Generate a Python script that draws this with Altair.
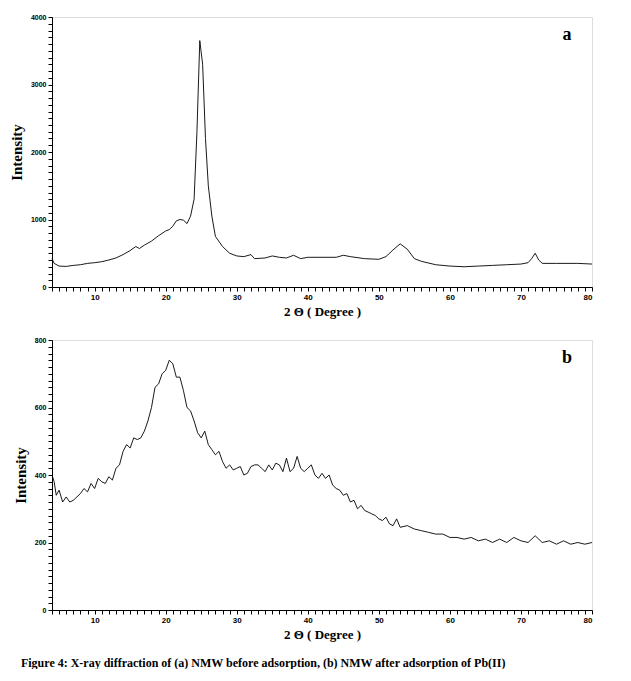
import altair as alt
import pandas as pd

# panel a: NMW before adsorption
theta_a = [4, 4.3, 5, 6, 7, 8, 9, 10, 11, 12, 13, 14, 15, 15.8, 16.3, 17, 18, 19, 20, 20.5,
           21, 21.5, 22, 22.5, 23, 23.5, 24, 24.4, 24.8, 25.2, 25.6, 26, 26.5, 27, 28, 29, 30,
           31, 32, 32.5, 34, 35, 36, 37, 38, 39, 40, 42, 44, 45, 46, 48, 50, 51, 52, 53, 54,
           55, 56, 58, 60, 62, 64, 66, 68, 70, 71, 71.5, 72, 72.5, 73, 75, 78, 80]
int_a = [420, 350, 310, 305, 320, 330, 350, 360, 375, 400, 430, 480, 540, 600, 570, 620, 680,
         760, 830, 850, 900, 980, 1000, 990, 940, 1050, 1300, 2300, 3650, 3300, 2200, 1500,
         1050, 750, 600, 500, 460, 450, 480, 420, 430, 460, 440, 430, 470, 420, 440, 440, 440,
         470, 450, 420, 410, 450, 550, 640, 560, 420, 380, 330, 310, 300, 310, 320, 330, 340,
         360, 420, 500, 400, 350, 350, 350, 340]

# panel b: NMW after adsorption of Pb(II)
theta_b = [4, 4.3, 4.6, 5, 5.5, 6, 6.5, 7, 8, 8.5, 9, 9.5, 10, 10.5, 11, 11.5, 12, 12.5, 13,
           13.5, 14, 14.5, 15, 15.5, 16, 16.5, 17, 17.5, 18, 18.5, 19, 19.5, 20, 20.5, 21,
           21.5, 22, 22.5, 23, 23.5, 24, 24.5, 25, 25.5, 26, 26.5, 27, 27.5, 28, 28.5, 29,
           29.5, 30, 30.5, 31, 31.5, 32, 32.5, 33, 33.5, 34, 34.5, 35, 35.5, 36, 36.5, 37,
           37.5, 38, 38.5, 39, 39.5, 40, 40.5, 41, 41.5, 42, 42.5, 43, 43.5, 44, 44.5, 45,
           45.5, 46, 46.5, 47, 47.5, 48, 48.5, 49, 49.5, 50, 50.5, 51, 51.5, 52, 52.5, 53,
           54, 55, 56, 57, 58, 59, 60, 61, 62, 63, 64, 65, 66, 67, 68, 69, 70, 71, 72, 73,
           74, 75, 76, 77, 78, 79, 80]
int_b = [400, 380, 340, 355, 320, 335, 320, 325, 345, 360, 350, 375, 360, 390, 380, 375, 395,
         385, 420, 430, 470, 490, 480, 510, 505, 510, 530, 560, 600, 660, 670, 700, 710, 740,
         730, 690, 690, 650, 600, 590, 560, 525, 510, 530, 490, 475, 460, 470, 440, 420, 430,
         415, 420, 425, 400, 405, 425, 430, 430, 420, 410, 430, 415, 435, 430, 410, 450, 410,
         420, 455, 420, 410, 420, 430, 400, 390, 405, 390, 400, 370, 360, 355, 340, 345, 320,
         325, 300, 310, 295, 290, 285, 280, 270, 265, 275, 255, 250, 270, 245, 250, 240, 235,
         230, 225, 225, 215, 215, 210, 215, 205, 210, 200, 210, 200, 215, 205, 200, 220, 200,
         205, 195, 205, 195, 200, 195, 200]

SERIF = "Liberation Serif"
W, H = 540, 270


def panel(theta, inten, ymax, ystep, letter):
    df = pd.DataFrame({"theta": theta, "intensity": inten})
    xaxis = alt.Axis(values=list(range(4, 81)), labelExpr="datum.value % 10 == 0 ? datum.value : ''",
                     grid=False, tickSize=4, labelFontSize=8, labelFontWeight="bold",
                     labelFont="Arial", title="2 \u0398 ( Degree )", titleFont=SERIF,
                     titleFontSize=13, titleFontWeight="bold", titlePadding=4,
                     domainColor="black", tickColor="black", labelColor="black")
    yaxis = alt.Axis(values=list(range(0, ymax + 1, ystep // 10)),
                     labelExpr=f"datum.value % {ystep} == 0 ? datum.value : ''",
                     grid=False, tickSize=4, labelFontSize=7, labelFontWeight="bold",
                     labelFont="Arial", title="Intensity", titleFont=SERIF, titleFontSize=15,
                     titleFontWeight="bold", titlePadding=6,
                     domainColor="black", tickColor="black", labelColor="black")
    line = alt.Chart(df).mark_line(color="black", strokeWidth=0.9).encode(
        x=alt.X("theta:Q", scale=alt.Scale(domain=[4, 80], nice=False), axis=xaxis),
        y=alt.Y("intensity:Q", scale=alt.Scale(domain=[0, ymax], nice=False), axis=yaxis),
    )
    label = alt.Chart(pd.DataFrame({"t": [letter]})).mark_text(
        font=SERIF, fontSize=18, fontWeight="bold", color="black"
    ).encode(x=alt.value(515), y=alt.value(18), text="t:N")
    return (line + label).properties(width=W, height=H)


chart = alt.vconcat(
    panel(theta_a, int_a, 4000, 1000, "a"),
    panel(theta_b, int_b, 800, 200, "b"),
    spacing=16,
).properties(
    padding={"left": 0, "top": 4, "right": 0, "bottom": 0},
    title=alt.TitleParams("Figure 4:  X-ray diffraction of (a) NMW before adsorption, (b) NMW after adsorption of Pb(II)",
                          orient="bottom", anchor="start", font=SERIF, fontSize=12,
                          fontWeight="bold", offset=16, dx=12),
).configure_view(stroke="black", strokeWidth=1).configure(background="white")

chart.save("out.html", embed_options={"renderer": "svg", "actions": False})
